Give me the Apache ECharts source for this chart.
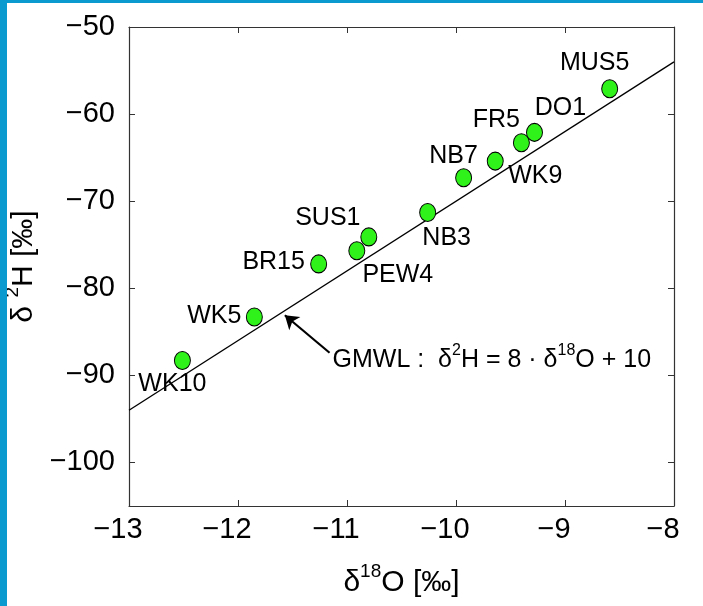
<!DOCTYPE html>
<html><head><meta charset="utf-8">
<script src="https://cdn.jsdelivr.net/npm/echarts@6/dist/echarts.min.js"></script>
<style>
html,body{margin:0;padding:0;background:#fff;}
#wrap{position:relative;width:703px;height:606px;overflow:hidden;background:#fff;}
#chart{position:absolute;left:0;top:0;width:703px;height:606px;}
.bl{position:absolute;left:0;top:0;width:7px;height:606px;background:#0a9ad0;}
.bt{position:absolute;left:0;top:0;width:703px;height:3px;background:#0a9ad0;}
</style></head><body>
<div id="wrap"><div id="chart"></div><div class="bl"></div><div class="bt"></div></div>
<script>
// ---- data ----
const sampleNames = ['WK10','WK5','BR15','PEW4','SUS1','NB3','NB7','WK9','FR5','DO1','MUS5'];
const d18O = [-12.51,-11.85,-11.26,-10.91,-10.80,-10.26,-9.93,-9.64,-9.40,-9.28,-8.59];
const d2H  = [-88.3,-83.3,-77.2,-75.7,-74.1,-71.3,-67.3,-65.4,-63.3,-62.1,-57.1];
const xTicks = [-13,-12,-11,-10,-9,-8];
const yTicks = [-100,-90,-80,-70,-60,-50];
const gmwlX = [-13,-8];
const gmwlY = [-94,-54];

// ---- layout / style (not data) ----
const labelOffsets = {
  WK10:[-10,24], WK5:[-40,-1], BR15:[-45,-2], PEW4:[41,24], SUS1:[-41,-19],
  NB3:[19,26], NB7:[-10,-22], WK9:[40,15], FR5:[-25,-23], DO1:[26,-24], MUS5:[-15,-26]
};
const arrowTail = [-11.16,-87.4];
const arrowTip  = [-11.57,-83.1];

const FONT = '"Liberation Sans", Arial, Helvetica, sans-serif';
const fmt = v => String(v).replace('-', '\u2212');
const rich = (big, small) => ({
  n: {fontSize: big, fontFamily: FONT, color: '#000', lineHeight: Math.round(big*1.2), verticalAlign: 'bottom', textBorderWidth: 0},
  s: {fontSize: small, fontFamily: FONT, color: '#000', lineHeight: small, verticalAlign: 'top', textBorderWidth: 0}
});
const AX = '#333';

const chart = echarts.init(document.getElementById('chart'), null, {renderer: 'canvas'});
chart.setOption({
  animation: false,
  backgroundColor: '#fff',
  grid: {left: 129, right: 29, top: 27, bottom: 100, containLabel: false, outerBoundsMode: 'none'},
  xAxis: [{
    type: 'value', min: -13, max: -8, position: 'bottom',
    name: '{n|δ}{s|18}{n|O [‰]}', nameLocation: 'middle', nameGap: 56,
    nameTextStyle: {rich: rich(30, 19)},
    axisLine: {show: true, onZero: false, lineStyle: {color: AX, width: 1.2}},
    axisTick: {show: true, inside: true, length: 6, customValues: xTicks, lineStyle: {color: AX}},
    axisLabel: {show: true, customValues: xTicks, formatter: fmt, fontSize: 29, fontFamily: FONT, color: '#000', margin: 9, padding: [0, 22, 0, 0]},
    splitLine: {show: false}
  }, {
    type: 'value', min: -13, max: -8, position: 'top',
    axisLine: {show: true, onZero: false, lineStyle: {color: AX, width: 1.2}},
    axisTick: {show: true, inside: true, length: 6, customValues: xTicks, lineStyle: {color: AX}},
    axisLabel: {show: false}, splitLine: {show: false}
  }],
  yAxis: [{
    type: 'value', min: -105, max: -50, position: 'left',
    name: '{n|δ }{s|2}{n|H [‰]}', nameLocation: 'middle', nameGap: 81, nameRotate: 90,
    nameTextStyle: {rich: rich(30, 19)},
    axisLine: {show: true, onZero: false, lineStyle: {color: AX, width: 1.2}},
    axisTick: {show: true, inside: true, length: 6, customValues: yTicks, lineStyle: {color: AX}},
    axisLabel: {show: true, customValues: yTicks, formatter: fmt, fontSize: 29, fontFamily: FONT, color: '#000', margin: 14},
    splitLine: {show: false}
  }, {
    type: 'value', min: -105, max: -50, position: 'right',
    axisLine: {show: true, onZero: false, lineStyle: {color: AX, width: 1.2}},
    axisTick: {show: true, inside: true, length: 6, customValues: yTicks, lineStyle: {color: AX}},
    axisLabel: {show: false}, splitLine: {show: false}
  }],
  series: [{
    type: 'line', name: 'GMWL', silent: true, z: 1,
    data: gmwlX.map((x, i) => [x, gmwlY[i]]),
    symbol: 'none', lineStyle: {color: '#000', width: 1.3},
    markLine: {
      silent: true, symbol: ['none', 'arrow'], symbolSize: 13,
      lineStyle: {color: '#000', width: 2.2, type: 'solid'},
      label: {show: false},
      data: [[{coord: arrowTail}, {coord: arrowTip}]]
    }
  }, {
    type: 'scatter', name: 'samples', z: 3,
    data: sampleNames.map((n, i) => ({name: n, value: [d18O[i], d2H[i]], label: {offset: labelOffsets[n]}})),
    symbol: 'circle', symbolSize: [16, 18],
    itemStyle: {color: '#2ef21a', borderColor: '#000', borderWidth: 1, opacity: 1},
    label: {show: true, position: 'inside', formatter: '{b}', fontSize: 25, fontFamily: FONT, color: '#000', textBorderWidth: 0, align: 'center', verticalAlign: 'middle'}
  }, {
    type: 'scatter', name: 'note', silent: true, z: 4,
    data: [{value: arrowTail}], symbolSize: 0,
    itemStyle: {color: '#000', opacity: 1},
    label: {
      show: true, position: 'inside', align: 'left', offset: [3, 5],
      color: '#000', textBorderWidth: 0, opacity: 1,
      formatter: '{n|GMWL :  δ}{s|2}{n|H = 8 · δ}{s|18}{n|O + 10}',
      rich: rich(25, 16)
    }
  }]
});
</script>
</body></html>
